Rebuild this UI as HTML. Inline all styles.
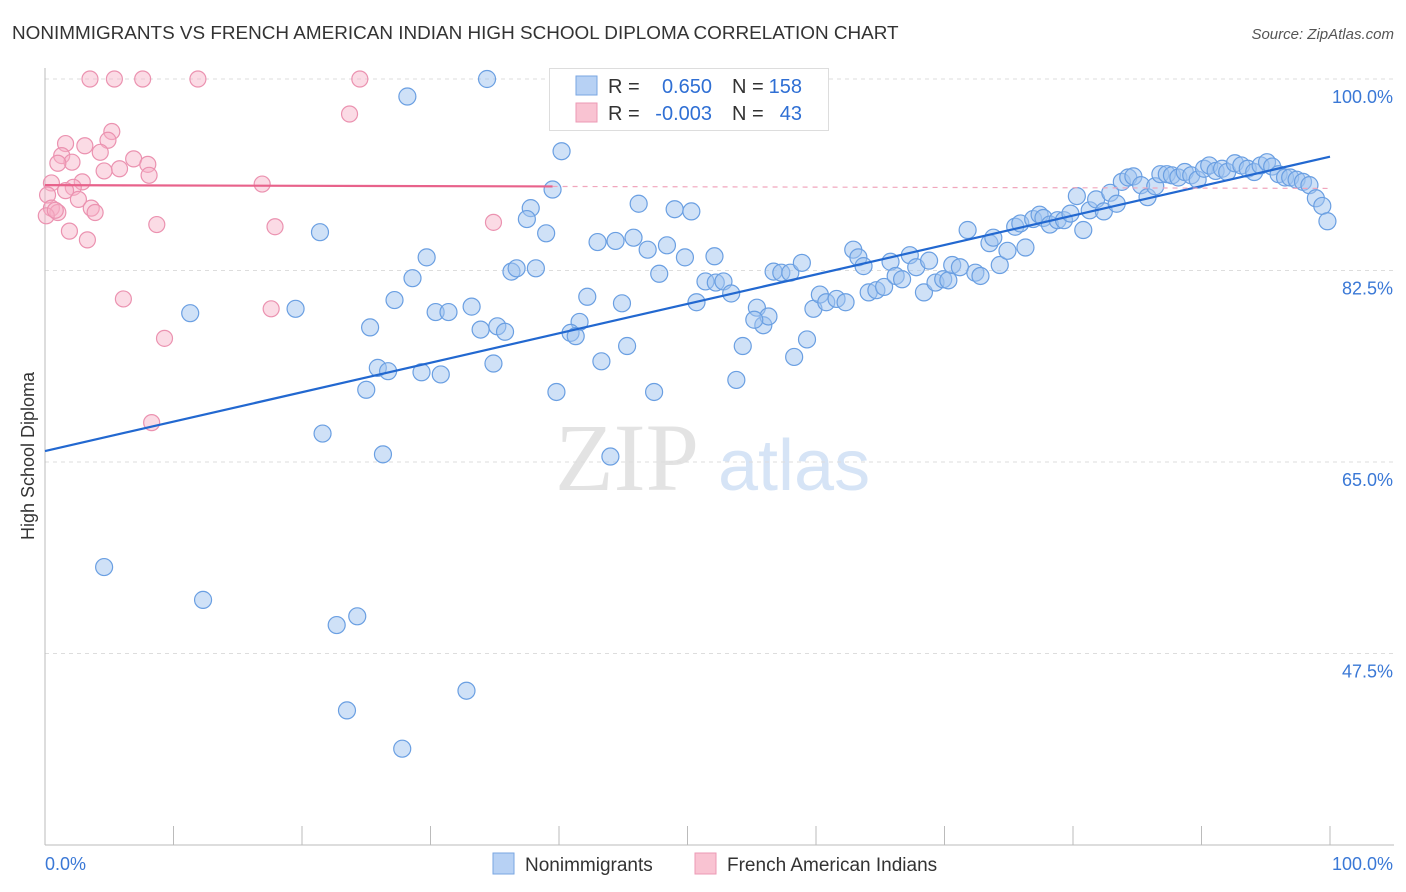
<!DOCTYPE html>
<html><head><meta charset="utf-8"><style>
body{margin:0;background:#fff;font-family:"Liberation Sans",sans-serif;}
svg{display:block}
</style></head><body>
<svg id="chart" width="1406" height="892">
<text x="12" y="39" font-size="18.9" fill="#333">NONIMMIGRANTS VS FRENCH AMERICAN INDIAN HIGH SCHOOL DIPLOMA CORRELATION CHART</text>
<text x="1394" y="39" font-size="15" fill="#555" font-style="italic" text-anchor="end">Source: ZipAtlas.com</text>
<text x="34" y="456" font-size="18" fill="#333" text-anchor="middle" transform="rotate(-90 34 456)">High School Diploma</text>
<g>
<text x="555" y="490" font-size="96" font-family="Liberation Serif,serif" fill="#e3e3e3">ZIP</text>
<text x="718" y="490" font-size="72" fill="#d6e4f6">atlas</text>
</g>
<g id="grid"></g>
<g id="axes"></g>
<g id="pts"></g>
<g id="lines"></g>
<g>
<rect x="549.5" y="68.5" width="279" height="62" fill="#fff" stroke="#ddd"/>
<rect x="576" y="76" width="21" height="19" fill="#b7d1f4" stroke="#7aa6e2"/>
<rect x="576" y="103" width="21" height="19" fill="#f9c3d2" stroke="#ec9ab4"/>
<text x="608" y="93" font-size="20" fill="#333">R =</text>
<text x="712" y="93" font-size="20" fill="#2f6fd4" text-anchor="end">0.650</text>
<text x="732" y="93" font-size="20" fill="#333">N =</text>
<text x="802" y="93" font-size="20" fill="#2f6fd4" text-anchor="end">158</text>
<text x="608" y="120" font-size="20" fill="#333">R =</text>
<text x="712" y="120" font-size="20" fill="#2f6fd4" text-anchor="end">-0.003</text>
<text x="732" y="120" font-size="20" fill="#333">N =</text>
<text x="802" y="120" font-size="20" fill="#2f6fd4" text-anchor="end">43</text>
</g>
<g>
<rect x="493" y="853" width="21" height="21" fill="#b7d1f4" stroke="#7aa6e2"/>
<text x="525" y="871" font-size="19" fill="#333">Nonimmigrants</text>
<rect x="695" y="853" width="21" height="21" fill="#f9c3d2" stroke="#ec9ab4"/>
<text x="727" y="871" font-size="19" fill="#333">French American Indians</text>
</g>
</svg>
<script>
const blueX=[34.4,28.2,40.2,39.5,37.8,37.5,39.0,21.4,46.2,49.0,50.3,43.0,44.4,45.8,48.4,46.9,49.8,52.1,29.7,36.3,36.7,38.2,28.6,47.8,51.4,52.2,52.8,53.4,42.2,27.2,50.7,44.9,33.2,30.4,31.4,11.3,19.5,41.6,25.3,33.9,35.2,35.8,40.9,41.3,45.3,43.3,34.9,25.9,26.7,29.3,30.8,25.0,39.8,47.4,53.8,54.3,55.4,55.9,56.3,55.2,58.3,59.3,59.8,60.3,60.8,61.6,62.3,56.7,57.3,58.0,58.9,62.9,63.3,63.7,64.1,64.7,65.3,65.8,66.2,66.7,67.3,67.8,68.4,68.8,69.3,69.9,70.3,70.6,71.2,71.8,72.4,72.8,73.5,73.8,74.3,74.9,75.5,76.3,75.9,76.9,77.4,77.7,78.2,78.8,79.3,79.8,80.3,80.8,81.3,81.8,82.4,82.9,83.4,83.8,84.3,84.7,85.3,85.8,86.4,86.8,87.3,87.7,88.2,88.7,89.2,89.7,90.2,90.6,91.1,91.6,92.0,92.6,93.1,93.6,94.1,94.6,95.1,95.5,96.0,96.5,96.9,97.4,97.9,98.4,98.9,99.4,99.8,21.6,26.3,44.0,4.6,12.3,22.7,24.3,32.8,23.5,27.8];
const blueY=[100,98.4,93.4,89.9,88.2,87.2,85.9,86.0,88.6,88.1,87.9,85.1,85.2,85.5,84.8,84.4,83.7,83.8,83.7,82.4,82.7,82.7,81.8,82.2,81.5,81.4,81.5,80.4,80.1,79.8,79.6,79.5,79.2,78.7,78.7,78.6,79.0,77.8,77.3,77.1,77.4,76.9,76.8,76.5,75.6,74.2,74.0,73.6,73.3,73.2,73.0,71.6,71.4,71.4,72.5,75.6,79.1,77.5,78.3,78.0,74.6,76.2,79.0,80.3,79.6,79.9,79.6,82.4,82.3,82.3,83.2,84.4,83.7,82.9,80.5,80.7,81.0,83.3,82.0,81.7,83.9,82.8,80.5,83.4,81.4,81.7,81.6,83.0,82.8,86.2,82.3,82.0,85.0,85.5,83.0,84.3,86.5,84.6,86.8,87.2,87.6,87.3,86.7,87.1,87.1,87.7,89.3,86.2,88.0,89.0,87.9,89.6,88.6,90.6,91.0,91.1,90.3,89.2,90.2,91.3,91.3,91.2,91.0,91.5,91.2,90.8,91.8,92.1,91.6,91.8,91.5,92.3,92.1,91.8,91.5,92.1,92.4,92.0,91.3,91.0,91.0,90.8,90.6,90.3,89.1,88.4,87.0,67.6,65.7,65.5,55.4,52.4,50.1,50.9,44.1,42.3,38.8];
const pinkX=[3.5,5.4,7.6,11.9,24.5,23.7,5.2,4.9,1.6,3.1,4.3,1.3,6.9,2.1,1.0,8.0,5.8,4.6,8.1,2.9,0.5,2.2,16.9,1.6,0.2,2.6,3.6,0.5,1.0,0.1,8.7,17.9,34.9,1.9,3.3,6.1,17.6,9.3,8.3,0.8,3.9];
const pinkY=[100,100,100,100,100,96.8,95.2,94.4,94.1,93.9,93.3,93.0,92.7,92.4,92.3,92.2,91.8,91.6,91.2,90.6,90.5,90.1,90.4,89.8,89.4,89.0,88.2,88.2,87.8,87.5,86.7,86.5,86.9,86.1,85.3,79.9,79.0,76.3,68.6,88.0,87.8];
const yTicks=[100,82.5,65,47.5];
const blueFit=[66.0,92.9];
const pinkFit=[90.3,90.0];
const NS="http://www.w3.org/2000/svg";
const sx=v=>45+v*12.85;
const sy=v=>79+(100-v)*10.943;
function mk(tag,attrs,parent){const e=document.createElementNS(NS,tag);for(const k in attrs)e.setAttribute(k,attrs[k]);parent.appendChild(e);return e;}
const grid=document.getElementById('grid'),axes=document.getElementById('axes'),pts=document.getElementById('pts'),lines=document.getElementById('lines');
yTicks.forEach(t=>{
 const l=mk('line',{x1:45,x2:1394,y1:sy(t),y2:sy(t),stroke:'#ddd','stroke-dasharray':'4 4'},grid);
 
 
 const tx=mk('text',{x:1393,y:sy(t)+24,'font-size':18,fill:'#3a78d6','text-anchor':'end'},grid);
 tx.textContent=(t===100?'100.0':t.toFixed(1))+'%';
 
 
});
mk('line',{x1:45,x2:45,y1:68,y2:845,stroke:'#bbb'},axes);
mk('line',{x1:45,x2:1394,y1:845,y2:845,stroke:'#bbb'},axes);
for(let i=0;i<=10;i++){const t=mk('line',{x1:sx(i*10),x2:sx(i*10),y1:826,y2:845,stroke:'#bbb'},axes);
 
 }
const xl=mk('text',{x:45,y:870,'font-size':18,fill:'#3a78d6'},axes);xl.textContent='0.0%';


const xr=mk('text',{x:1393,y:870,'font-size':18,fill:'#3a78d6','text-anchor':'end'},axes);xr.textContent='100.0%';


pinkX.forEach((x,i)=>{const c=mk('circle',{cx:sx(x),cy:sy(pinkY[i]),r:8,fill:'rgba(247,176,198,0.45)',stroke:'#eb92b0','stroke-width':1.2},pts);
 
 });
blueX.forEach((x,i)=>{const c=mk('circle',{cx:sx(x),cy:sy(blueY[i]),r:8.5,fill:'rgba(160,196,240,0.5)',stroke:'#6a9fe2','stroke-width':1.2},pts);
 
 });
const bl=mk('line',{x1:sx(0),y1:sy(blueFit[0]),x2:sx(100),y2:sy(blueFit[1]),stroke:'#2268d0','stroke-width':2.2},lines);


const py=x=>pinkFit[0]+(pinkFit[1]-pinkFit[0])*x/100;
const pl=mk('line',{x1:sx(0),y1:sy(py(0)),x2:sx(39.5),y2:sy(py(39.5)),stroke:'#e8628b','stroke-width':2.2},lines);


const pd=mk('line',{x1:sx(39.5),y1:sy(py(39.5)),x2:sx(100),y2:sy(py(100)),stroke:'#f0a6bd','stroke-width':1.2,'stroke-dasharray':'5 5'},lines);


</script>
</body></html>
